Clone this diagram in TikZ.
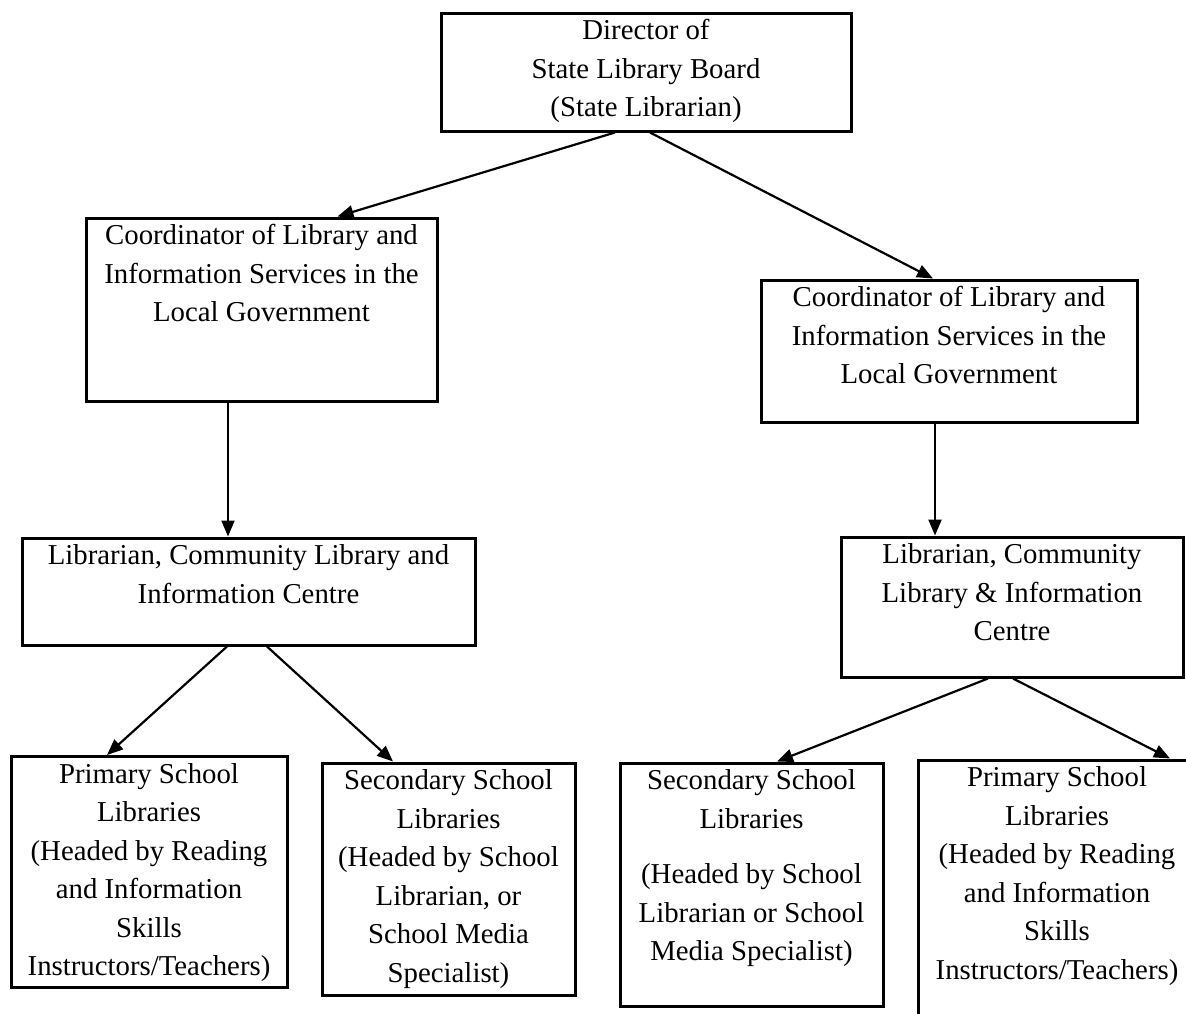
\documentclass[tikz,border=0pt]{standalone}
\usepackage{fontspec}
\setmainfont{Liberation Serif}
\usepackage{tikz}
\usetikzlibrary{arrows.meta,calc}

\newcommand{\boxtxt}[3]{\parbox[c][#2][t]{#1}{\centering\strut #3}}

\begin{document}
\begin{tikzpicture}[x=1pt,y=1pt,yscale=-1,
  orgbox/.style={draw,line width=3pt,inner sep=0pt,font=\fontsize{28.8}{38.5}\selectfont},
  conn/.style={line width=2.2pt,-{Triangle[length=16pt,width=13pt]}}]
%set diagram size 1186 x 1013, the last box runs off the page
\path[use as bounding box,clip] (0,0) rectangle (1186,1013);

%Shape: Rectangle [director]
\node[orgbox] (dir) at (646,72) {\boxtxt{410pt}{118pt}{Director of\\ State Library Board\\ (State Librarian)}};
%Shape: Rectangle [coordinators]
\node[orgbox] (coordL) at (261.5,309.5) {\boxtxt{351pt}{183pt}{Coordinator of Library and\\ Information Services in the\\ Local Government}};
\node[orgbox] (coordR) at (949,351) {\boxtxt{376pt}{142pt}{Coordinator of Library and\\ Information Services in the\\ Local Government}};
%Shape: Rectangle [librarians]
\node[orgbox] (libL) at (248.5,591.5) {\boxtxt{453pt}{107pt}{Librarian, Community Library and\\ Information Centre}};
\node[orgbox] (libR) at (1012,607) {\boxtxt{342pt}{140pt}{Librarian, Community\\ Library \& Information\\ Centre}};
%Shape: Rectangle [school libraries]
\node[orgbox] (primL) at (149,872) {\boxtxt{276pt}{231pt}{Primary School\\ Libraries\\ (Headed by Reading\\ and Information\\ Skills\\ Instructors/Teachers)}};
\node[orgbox] (secL) at (448.5,879) {\boxtxt{253pt}{232pt}{Secondary School\\ Libraries\\ (Headed by School\\ Librarian, or\\ School Media\\ Specialist)}};
\node[orgbox] (secR) at (751.5,884.5) {\boxtxt{263pt}{243pt}{Secondary School\\ Libraries\\[17pt] (Headed by School\\ Librarian or School\\ Media Specialist)}};
\node[orgbox] (primR) at (1057,910) {\boxtxt{278pt}{300pt}{Primary School\\ Libraries\\ (Headed by Reading\\ and Information\\ Skills\\ Instructors/Teachers)}};

%Straight Lines
\draw[conn] ($(dir.south)+(-31,0)$) -- ($(coordL.north)+(76,0)$);
\draw[conn] ($(dir.south)+(4,0)$) -- ($(coordR.north)+(-16,0)$);
\draw[conn] ($(coordL.south)+(-33.5,0)$) -- ($(libL.north)+(-20.5,0)$);
\draw[conn] ($(coordR.south)+(-14,0)$) -- ($(libR.north)+(-77,0)$);
\draw[conn] ($(libL.south)+(-21.5,0)$) -- ($(primL.north)+(-42,0)$);
\draw[conn] ($(libL.south)+(18.5,0)$) -- ($(secL.north)+(-55.5,0)$);
\draw[conn] ($(libR.south)+(-24,0)$) -- ($(secR.north)+(25.5,0)$);
\draw[conn] ($(libR.south)+(1,0)$) -- ($(primR.north)+(113,0)$);

\end{tikzpicture}
\end{document}
